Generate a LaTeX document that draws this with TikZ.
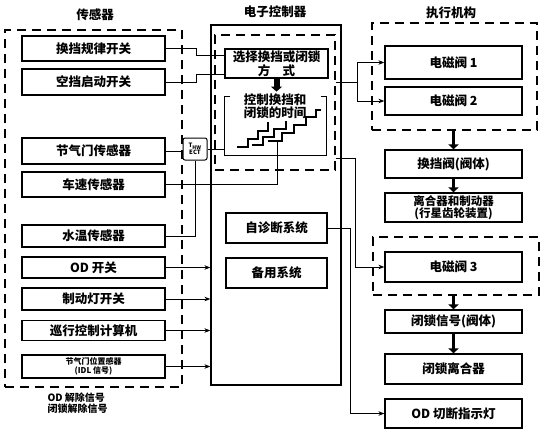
\documentclass[tikz,border=0pt]{standalone}
\usepackage{fontspec}
\setmainfont{Noto Sans CJK SC}
\usetikzlibrary{arrows.meta}

\begin{document}
\begin{tikzpicture}[x=1pt,y=-1pt,
  txt/.style={font=\fontsize{12.5}{13.5}\selectfont\bfseries},
  box/.style={draw,line width=1.2pt,inner sep=0pt,align=center,txt},
  lbox/.style={box,minimum width=143},
  rbox/.style={box,minimum width=137},
  grp/.style={draw,line width=1.3pt,dash pattern=on 9pt off 6pt},
  wire/.style={line width=1pt},
  feed/.style={wire,-{Stealth[length=6pt,width=4.5pt]}},
  fat/.style={line width=3.5pt,-{Triangle[length=5pt,width=10pt]}}]
\useasboundingbox (0,0) rectangle (553,444);

% titles
\node[txt] (tsen) at (95,15) {传感器};
\node[txt] (tecu) at (275,12) {电子控制器};
\node[txt] (tact) at (451,13) {执行机构};

% groups
\node[grp,minimum width=177,minimum height=357] (sens) at (93.5,208.5) {};
\node[grp,minimum width=165,minimum height=107] (acta) at (454.5,76.5) {};
\node[grp,minimum width=166,minimum height=58] (actb) at (456,266) {};
\node[draw,line width=1.2pt,minimum width=130,minimum height=360] (ecu) at (276,205) {};
\node[grp,minimum width=120,minimum height=135] (ctlin) at (275,102.5) {};

% sensors
\node[lbox,minimum height=25] (sw1) at (93.5,48.5) {换挡规律开关};
\node[lbox,minimum height=26] (sw2) at (93.5,82) {空挡启动开关};
\node[lbox,minimum height=26] (tps) at (93.5,151) {节气门传感器};
\node[lbox,minimum height=25] (spd) at (93.5,184.5) {车速传感器};
\node[lbox,minimum height=22] (wt) at (93.5,236) {水温传感器};
\node[lbox,minimum height=21] (od) at (93.5,267.5) {OD 开关};
\node[lbox,minimum height=22] (brk) at (93.5,299) {制动灯开关};
\node[lbox,minimum height=20] (cc) at (93.5,330.5) {巡行控制计算机};
\node[lbox,minimum height=23,font=\fontsize{8}{9}\selectfont\bfseries] (idl) at (93.5,366.5) {节气门位置感器\\(IDL 信号)};
\node[anchor=north west,align=left,font=\fontsize{10}{11.5}\selectfont\bfseries] (odn) at (44,389) {OD 解除信号\\闭锁解除信号};

\node[draw,line width=1pt,rounded corners=2pt,minimum width=24,minimum height=22,inner sep=0pt,align=center,font=\fontsize{6}{7}\selectfont\bfseries] (thw) at (195,149) {T\textsubscript{HW}\\ECT};

% controller
\node[box,minimum width=103,minimum height=29,font=\fontsize{12.5}{14}\selectfont\bfseries] (sel) at (276.5,63.5) {选择换挡或闭锁\\方\quad 式};
\node[minimum width=101,minimum height=58] (tbox) at (275.5,126) {};
\draw[line width=1.2pt] ([xshift=5pt]tbox.north west) -- (tbox.north west) -- (tbox.south west)
  -- (tbox.south east) -- (tbox.north east) -- ([xshift=-5pt]tbox.north east);
\node[txt,align=center,font=\fontsize{12.5}{12.5}\selectfont\bfseries] (tlab) at (275,106) {控制换挡和\\闭锁的时间};
\draw[fat,line width=6pt,-{Triangle[length=5pt,width=11pt]}] (sel.south) -- ++(0,13);

% shift timing
\draw[line width=1.1pt] (237,147) -| (248,139) -| (258,131) -| (268,122);
\draw[line width=1.1pt] (252,145) -| (263,137) -| (274,129) -| (286,121);
\draw[line width=1.1pt] (268,141) -| (282,133) -| (294,125) -| (306,117) -| (316,110) -- (321,110);
\coordinate (st3) at (277,141);

\node[box,minimum width=101,minimum height=30] (diag) at (276.5,228) {自诊断系统};
\node[box,minimum width=101,minimum height=30] (bak) at (276.5,273) {备用系统};

% actuators
\node[rbox,minimum height=33] (sv1) at (453.5,62.5) {电磁阀 1};
\node[rbox,minimum height=28] (sv2) at (453.5,101) {电磁阀 2};
\node[rbox,minimum height=28] (shv) at (453.5,164) {换挡阀(阀体)};
\node[rbox,minimum height=29,font=\fontsize{11.5}{12.5}\selectfont\bfseries] (clb) at (453.5,207.5) {离合器和制动器\\(行星齿轮装置)};
\node[rbox,minimum height=30] (sv3) at (453.5,267) {电磁阀 3};
\node[rbox,minimum height=23] (lks) at (453.5,321.5) {闭锁信号(阀体)};
\node[rbox,minimum height=30] (lkc) at (453.5,369) {闭锁离合器};
\node[rbox,minimum height=29] (odl) at (453.5,413.5) {OD 切断指示灯};

\draw[fat] (shv.north |- acta.south) -- (shv.north);
\draw[fat] (shv.south) -- (clb.north);
\draw[fat] (lks.north |- actb.south) -- (lks.north);
\draw[fat] (lks.south) -- (lkc.north);

% wiring
\draw[wire] (sw1.east) -- ++(31,0) |- ([yshift=8.5pt]sel.west);
\draw[wire] (sw2.east) -- ++(31,0) |- ([yshift=-10.5pt]sel.west);
\draw[wire] (tps.east) -- (tps.east -| thw.west);
\draw[wire] (wt.east) -| (thw.south);
\draw[wire] (thw.east) -- (thw.east -| tbox.west);
\draw[wire] (spd.east) -| (st3);
\foreach \s in {od,brk,cc,idl}
  \draw[feed] (\s.east) -- (\s.east -| ecu.west);

\coordinate (j1) at (357,82);
\draw[wire] (ctlin.east |- j1) -- (j1);
\draw[feed] (j1) |- (sv1.west);
\draw[feed] (j1) |- (sv2.west);
\coordinate (j2) at (355,158);
\draw[feed] (ctlin.east |- j2) -- (j2) |- (sv3.west);
\draw[feed] (diag.east) -- ++(23,0) |- (odl.west);
\end{tikzpicture}
\end{document}
